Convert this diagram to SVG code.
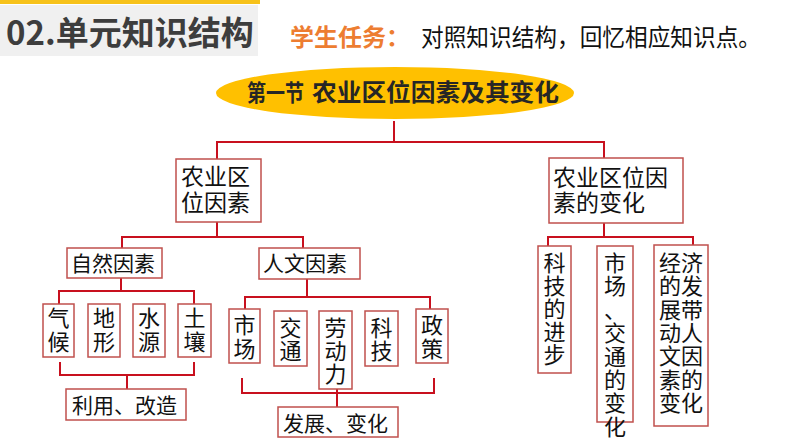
<svg xmlns="http://www.w3.org/2000/svg" width="794" height="447" viewBox="0 0 794 447">
<style>
text{font-family:"Noto Sans CJK SC","Noto Sans",sans-serif;fill:#111}
.box{fill:#fff;stroke:#c0504d;stroke-width:1.5}
.c{fill:none;stroke:#c8101e;stroke-width:2}
.t22{font-size:22px}
.t21{font-size:21px}
.t23{font-size:23px}
.m{text-anchor:middle}
</style>
<rect width="794" height="447" fill="#fff"/>
<g id="header">
<rect x="0" y="0" width="260" height="4" fill="#f7c21a"/>
<rect x="0" y="5" width="258" height="51" fill="#f0f0f0"/>
<text x="6" y="45" style="font-size:33px;font-weight:bold;fill:#3d3d3d">02.单元知识结构</text>
<text x="290" y="46" style="font-size:24px;font-weight:bold;fill:#ed7d31">学生任务：</text>
<text x="421" y="46" style="font-size:24px;fill:#111" textLength="340" lengthAdjust="spacingAndGlyphs">对照知识结构，回忆相应知识点。</text>
</g>
<g id="title">
<ellipse cx="395" cy="93" rx="179" ry="26" fill="#ffc000"/>
<text x="247" y="101" style="font-size:23px;font-weight:bold;fill:#262626" textLength="57" lengthAdjust="spacingAndGlyphs">第一节</text>
<text x="312" y="101" style="font-size:24px;font-weight:bold;fill:#262626" textLength="247" lengthAdjust="spacingAndGlyphs">农业区位因素及其变化</text>
</g>
<g id="connectors">
<path class="c" d="M394 121V142M217 159V142H604V158"/>
<path class="c" d="M217 222V237M122 248V237H303V248"/>
<path class="c" d="M121 278V291M59 304V291H194V304"/>
<path class="c" d="M60 362V375H194V362M127 375V389"/>
<path class="c" d="M307 279V297M245 309V297H430V309"/>
<path class="c" d="M242 378V393H434V378M337 389V407"/>
<path class="c" d="M604 223V237M548 246V237H693V245"/>
</g>
<g id="n-factors">
<rect class="box" x="176" y="159" width="85" height="63"/>
<text class="t23" x="181" y="185">农业区</text>
<text class="t23" x="181" y="211">位因素</text>
</g>
<g id="n-change">
<rect class="box" x="549" y="158" width="134" height="65"/>
<text class="t23" x="553" y="186">农业区位因</text>
<text class="t23" x="553" y="211">素的变化</text>
</g>
<g id="n-natural">
<rect class="box" x="67" y="248" width="95" height="30"/>
<text class="t21 m" x="113" y="271">自然因素</text>
</g>
<g id="n-human">
<rect class="box" x="259" y="248" width="101" height="31"/>
<text class="t21 m" x="305" y="271">人文因素</text>
</g>
<g id="n-climate">
<rect class="box" x="43" y="304" width="31" height="53"/>
<text class="t22 m"><tspan x="58.5" y="326">气</tspan><tspan x="58.5" y="350">候</tspan></text>
</g>
<g id="n-terrain">
<rect class="box" x="88" y="304" width="32" height="53"/>
<text class="t22 m"><tspan x="104" y="326">地</tspan><tspan x="104" y="350">形</tspan></text>
</g>
<g id="n-water">
<rect class="box" x="133" y="304" width="32" height="53"/>
<text class="t22 m"><tspan x="149" y="326">水</tspan><tspan x="149" y="350">源</tspan></text>
</g>
<g id="n-soil">
<rect class="box" x="178" y="304" width="33" height="53"/>
<text class="t22 m"><tspan x="194.5" y="326">土</tspan><tspan x="194.5" y="350">壤</tspan></text>
</g>
<g id="n-use">
<rect class="box" x="66" y="389" width="120" height="31"/>
<text class="t21" x="72" y="413">利用、改造</text>
</g>
<g id="n-market">
<rect class="box" x="229" y="309" width="31" height="54"/>
<text class="t22 m"><tspan x="244.5" y="333">市</tspan><tspan x="244.5" y="357">场</tspan></text>
</g>
<g id="n-traffic">
<rect class="box" x="274" y="311" width="33" height="55"/>
<text class="t22 m"><tspan x="290.5" y="336">交</tspan><tspan x="290.5" y="359">通</tspan></text>
</g>
<g id="n-labor">
<rect class="box" x="319" y="311" width="33" height="78"/>
<text class="t22 m"><tspan x="335.5" y="336">劳</tspan><tspan x="335.5" y="359">动</tspan><tspan x="335.5" y="382">力</tspan></text>
</g>
<g id="n-tech">
<rect class="box" x="365" y="311" width="33" height="55"/>
<text class="t22 m"><tspan x="381.5" y="336">科</tspan><tspan x="381.5" y="359">技</tspan></text>
</g>
<g id="n-policy">
<rect class="box" x="416" y="309" width="32" height="54"/>
<text class="t22 m"><tspan x="432" y="333">政</tspan><tspan x="432" y="357">策</tspan></text>
</g>
<g id="n-develop">
<rect class="box" x="278" y="407" width="120" height="30"/>
<text class="t21" x="283" y="431">发展、变化</text>
</g>
<g id="n-techprog">
<rect class="box" x="538" y="246" width="33" height="127"/>
<text class="t22 m"><tspan x="554.5" y="271">科</tspan><tspan x="554.5" y="294">技</tspan><tspan x="554.5" y="317">的</tspan><tspan x="554.5" y="340">进</tspan><tspan x="554.5" y="363">步</tspan></text>
</g>
<g id="n-markettraffic">
<rect class="box" x="597" y="246" width="36" height="176"/>
<text class="t22 m"><tspan x="615" y="271">市</tspan><tspan x="615" y="294.4">场</tspan><tspan x="615" y="317.8">、</tspan><tspan x="615" y="341.2">交</tspan><tspan x="615" y="364.6">通</tspan><tspan x="615" y="388">的</tspan><tspan x="615" y="411.4">变</tspan><tspan x="615" y="434.8">化</tspan></text>
</g>
<g id="n-economy">
<rect class="box" x="654" y="245" width="54" height="181"/>
<text class="t22 m"><tspan x="681" y="271">经济</tspan><tspan x="681" y="294.3">的发</tspan><tspan x="681" y="317.6">展带</tspan><tspan x="681" y="340.9">动人</tspan><tspan x="681" y="364.2">文因</tspan><tspan x="681" y="387.5">素的</tspan><tspan x="681" y="410.8">变化</tspan></text>
</g>
</svg>
